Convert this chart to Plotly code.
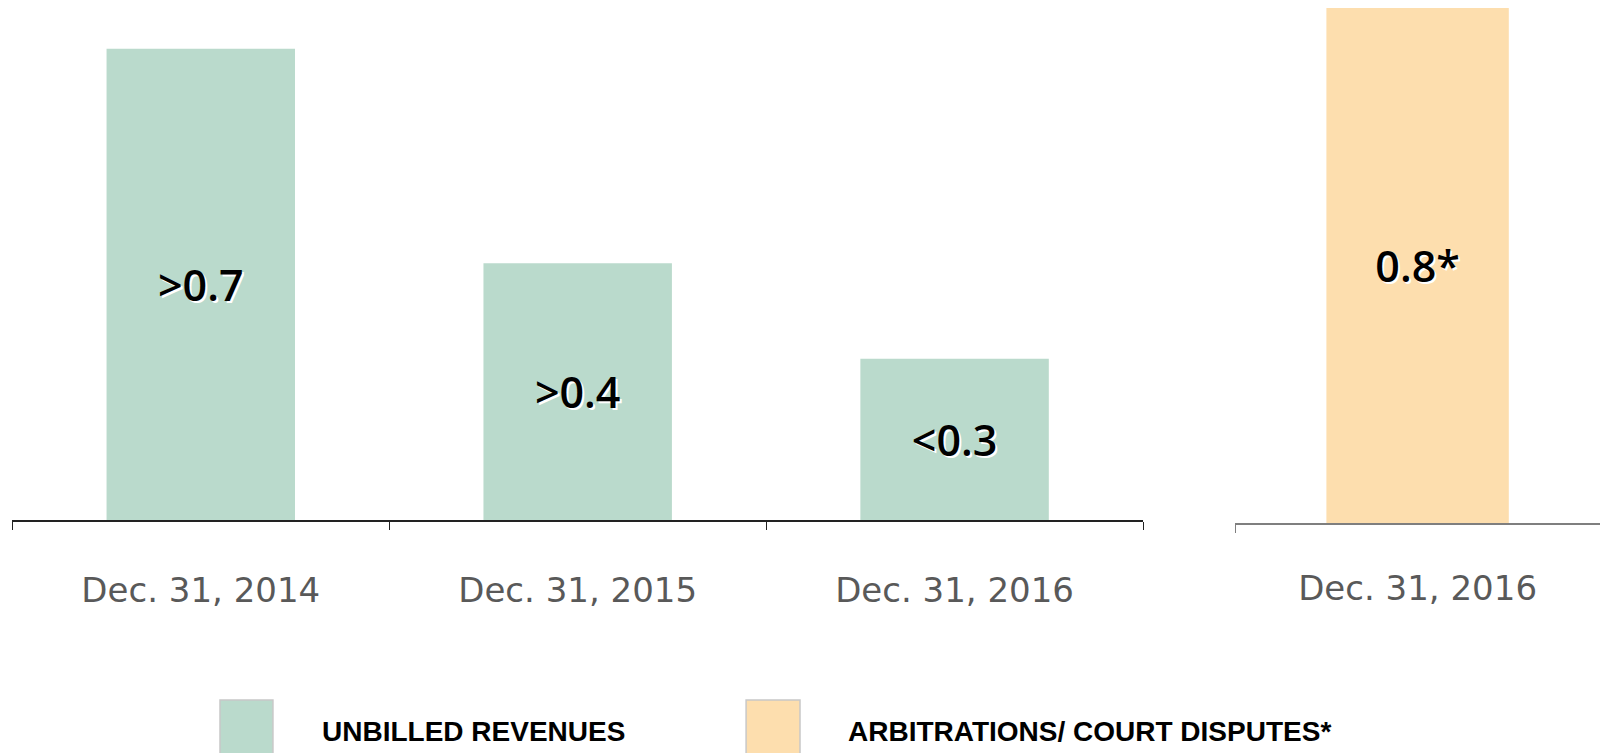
import plotly.graph_objects as go

categories_left = ["Dec. 31, 2014", "Dec. 31, 2015", "Dec. 31, 2016"]
unbilled_values = [0.725, 0.395, 0.248]
unbilled_labels = [">0.7", ">0.4", "<0.3"]

categories_right = ["Dec. 31, 2016"]
arbitration_values = [0.8]
arbitration_labels = ["0.8*"]

legend_names = ["UNBILLED REVENUES", "ARBITRATIONS/ COURT DISPUTES*"]

GREEN = "#BADACC"
ORANGE = "#FDDEAE"

label_font = dict(family="Open Sans", size=43, color="black", weight=600,
                  shadow="2px 2px 0px white")

fig = go.Figure()
fig.add_trace(go.Bar(
    x=categories_left, y=unbilled_values, text=unbilled_labels,
    marker=dict(color=GREEN, line=dict(width=0)), width=0.5,
    textposition="inside", insidetextanchor="middle", textangle=0,
    constraintext="none", textfont=label_font, name=legend_names[0],
    xaxis="x", yaxis="y", showlegend=False, hoverinfo="skip",
))
fig.add_trace(go.Bar(
    x=categories_right, y=arbitration_values, text=arbitration_labels,
    marker=dict(color=ORANGE, line=dict(width=0)), width=0.5,
    textposition="inside", insidetextanchor="middle", textangle=0,
    constraintext="none", textfont=label_font, name=legend_names[1],
    xaxis="x2", yaxis="y2", showlegend=False, hoverinfo="skip",
))

tick_font = dict(family="DejaVu Sans", size=34, color="#595959")

fig.update_layout(
    width=1600, height=753,
    margin=dict(l=0, r=0, t=0, b=0),
    paper_bgcolor="white", plot_bgcolor="white",
    showlegend=False,
    xaxis=dict(domain=[0.0077, 0.7144], showline=True, linecolor="#222222",
               linewidth=1.5, ticks="outside", tickson="boundaries",
               ticklen=8, tickcolor="#222222", tickfont=tick_font,
               ticklabelstandoff=39, showgrid=False, fixedrange=True),
    yaxis=dict(domain=[0.3094, 1.0], range=[0, 0.8], visible=False,
               showgrid=False),
    xaxis2=dict(domain=[0.772, 1.0], showline=True, linecolor="#7F7F7F",
                linewidth=2, ticks="outside", tickson="boundaries",
                ticklen=8, tickcolor="#7F7F7F", tickfont=tick_font,
                ticklabelstandoff=34, showgrid=False, anchor="y2"),
    yaxis2=dict(domain=[0.3048, 1.0], range=[0, 0.8124], visible=False,
                showgrid=False, anchor="x2"),
)

# custom legend (large swatches)
legend_items = [
    (legend_names[0], GREEN, 0.1375, 0.1706, 0.2),
    (legend_names[1], ORANGE, 0.4663, 0.50, 0.529),
]
for name, color, x0, x1, tx in legend_items:
    fig.add_shape(type="rect", xref="paper", yref="paper",
                  x0=x0, x1=x1, y0=-0.02, y1=0.0704,
                  fillcolor=color, line=dict(color="#C8C8C8", width=1.5))
    fig.add_annotation(text=name, xref="paper", yref="paper", x=tx, y=0.029,
                       xanchor="left", yanchor="middle", showarrow=False,
                       font=dict(family="Liberation Sans", size=28,
                                 color="black", weight="bold"))

fig.write_html("out.html",
               config={"displayModeBar": False},
               post_script="document.body.style.margin='0';"
                           "document.body.style.overflow='hidden';")
